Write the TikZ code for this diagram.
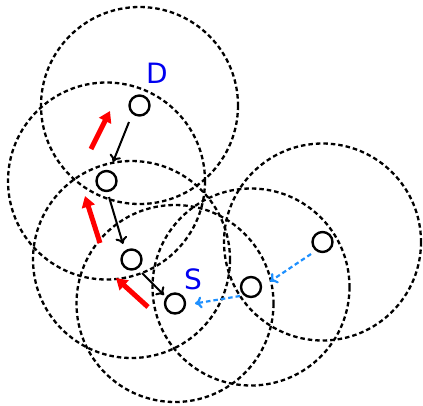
\documentclass[tikz,border=0pt]{standalone}
\usepackage{fontspec}
\setmainfont{DejaVu Sans}
\usetikzlibrary{arrows.meta}
\definecolor{lblue}{RGB}{30,144,255}
\definecolor{lbl}{RGB}{0,0,240}
\begin{document}
\begin{tikzpicture}[x=1pt,y=-1pt,
  radiorange/.style={draw=black,line width=2.3pt,dash pattern=on 4.5pt off 3pt,fill=none},
  hostnode/.style={circle,draw=black,line width=2.4pt,minimum size=20pt,inner sep=0pt},
  hop/.style={line width=2pt,-{To[length=7pt,width=12pt]}},
  rreq/.style={line width=2.2pt,lblue,dash pattern=on 4.5pt off 3pt,-{To[length=7pt,width=12pt]}},
  back/.style={line width=5pt,red,-{Triangle[length=11pt,width=13pt]}},
  lab/.style={text=lbl,font=\fontsize{28}{28}\selectfont,inner sep=0pt}]
\useasboundingbox (0,0) rectangle (423,405);
% nodes
\node[hostnode] (d) at (139.5,105.5) {};
\node[hostnode] (a) at (106.5,181) {};
\node[hostnode] (b) at (131.5,259.5) {};
\node[hostnode] (s) at (175,303.5) {};
\node[hostnode] (c) at (251,287) {};
\node[hostnode] (e) at (322.5,242) {};
% ranges
\draw[radiorange] (d) circle[radius=98.5];
\draw[radiorange] (a) circle[radius=98.5];
\draw[radiorange] (b) circle[radius=98.5];
\draw[radiorange] (s) circle[radius=98.5];
\draw[radiorange] (c) circle[radius=98.5];
\draw[radiorange] (e) circle[radius=98.5];
% labels
\node[lab] (dl) at (157,73) {D};
\node[lab] (sl) at (193,279) {S};
% route request / reply
\coordinate (h1s) at (129,122);
\coordinate (h1e) at (113,162);
\coordinate (h2s) at (109,197);
\coordinate (h2e) at (123,244);
\coordinate (h3s) at (142,273);
\coordinate (h3e) at (164,295);
\draw[hop] (h1s) -- (h1e);
\draw[hop] (h2s) -- (h2e);
\draw[hop] (h3s) -- (h3e);
\coordinate (q1s) at (311,254);
\coordinate (q1e) at (270,281.5);
\coordinate (q2s) at (240,296);
\coordinate (q2e) at (195,303.5);
\draw[rreq] (q1s) -- (q1e);
\draw[rreq] (q2s) -- (q2e);
\coordinate (r1s) at (91,149);
\coordinate (r1e) at (110,111);
\coordinate (r2s) at (100,243);
\coordinate (r2e) at (85,196);
\coordinate (r3s) at (148,307);
\coordinate (r3e) at (116,278);
\draw[back] (r1s) -- (r1e);
\draw[back] (r2s) -- (r2e);
\draw[back] (r3s) -- (r3e);
\end{tikzpicture}
\end{document}
